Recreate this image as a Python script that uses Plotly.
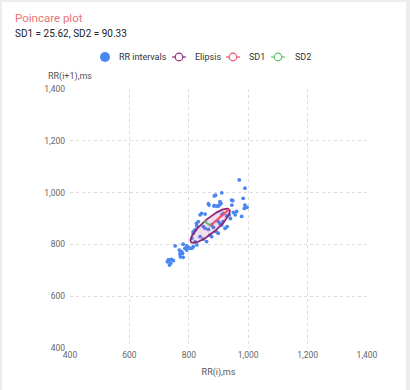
import numpy as np
import plotly.graph_objects as go

# ---- data ----
rr_i = [970, 989, 983, 944, 911, 890, 866, 886, 899, 905, 908, 948, 945, 989, 987,
        961, 956, 978, 950, 936, 927, 916, 911, 838, 843, 855, 832, 821, 827, 849,
        855, 866, 877, 883, 899, 905, 911, 916, 892, 899, 871, 877, 838, 849, 815,
        810, 827, 815, 860, 922, 929, 940, 826, 815, 821, 793, 787, 798, 793, 779,
        772, 781, 804, 810, 754, 768, 776, 770, 781, 731, 737, 742, 748, 728, 739,
        735, 903, 894, 907, 885, 868, 886, 996]
rr_i1 = [1049, 1017, 978, 971, 999, 990, 957, 950, 948, 965, 958, 969, 952, 952, 939,
         927, 914, 908, 924, 914, 910, 920, 914, 914, 920, 917, 888, 856, 871, 869,
         862, 858, 875, 866, 888, 881, 875, 888, 849, 843, 836, 830, 830, 820, 843,
         824, 798, 791, 811, 862, 869, 900, 881, 849, 810, 794, 785, 789, 778, 765,
         752, 801, 785, 785, 794, 778, 772, 763, 750, 740, 740, 742, 737, 733, 727,
         720, 952, 948, 959, 948, 952, 987, 943]

SD1 = 25.62
SD2 = 90.33
CENTER_X = 872
CENTER_Y = 872

tick_vals = [400, 600, 800, 1000, 1200, 1400]
legend_names = ["RR intervals", "Elipsis", "SD1", "SD2"]

# ---- derived geometry ----
t = np.linspace(0, 2 * np.pi, 200)
ang = np.pi / 4
ex = CENTER_X + SD2 * np.cos(t) * np.cos(ang) - SD1 * np.sin(t) * np.sin(ang)
ey = CENTER_Y + SD2 * np.cos(t) * np.sin(ang) + SD1 * np.sin(t) * np.cos(ang)
sd2_end = (CENTER_X + SD2 * np.cos(ang), CENTER_Y + SD2 * np.sin(ang))
sd1_end = (CENTER_X - SD1 * np.sin(ang), CENTER_Y + SD1 * np.cos(ang))

BLUE = "#4a86f0"
PURPLE = "#8e2a72"
RED = "#f0506e"
GREEN = "#5cc46a"
colors = [BLUE, PURPLE, RED, GREEN]
FONT = "Roboto"

fig = go.Figure()
fig.add_trace(go.Scatter(x=rr_i, y=rr_i1, mode="markers", name=legend_names[0],
                         marker=dict(color=BLUE, size=3.8)))
fig.add_trace(go.Scatter(x=ex, y=ey, mode="lines", name=legend_names[1], fill="toself",
                         fillcolor="rgba(170,70,160,0.18)",
                         line=dict(color=PURPLE, width=1.8)))
fig.add_trace(go.Scatter(x=[CENTER_X, sd2_end[0]], y=[CENTER_Y, sd2_end[1]], mode="lines",
                         name=legend_names[2], line=dict(color=RED, width=2.2)))
fig.add_trace(go.Scatter(x=[CENTER_X, sd1_end[0]], y=[CENTER_Y, sd1_end[1]], mode="lines",
                         name=legend_names[3], line=dict(color=GREEN, width=2.2)))

L, R, T, B = 70, 43, 89, 42
W, H = 410, 390
pw, ph = W - L - R, H - T - B


def px(x):
    return (x - L) / pw


def py(y):
    return (H - B - y) / ph


axis_common = dict(range=[400, 1400], tickvals=tick_vals, tickformat=",",
                   showgrid=True, gridcolor="#dcdcdc", griddash="dot", gridwidth=1,
                   zeroline=False, showline=False, ticks="", automargin=False,
                   tickfont=dict(size=8.5, color="#666666", family=FONT),
                   fixedrange=True)

# manual legend (shapes + text), laid out in pixels
shapes = [dict(type="rect", xref="paper", yref="paper", layer="below",
               x0=px(2), x1=px(406), y0=py(400), y1=py(2),
               fillcolor="white", line=dict(width=0))]
annotations = []
LY = 57
shapes.append(dict(type="circle", xref="paper", yref="paper", x0=px(100), x1=px(110),
                   y0=py(LY + 5), y1=py(LY - 5), fillcolor=BLUE, line=dict(width=0)))
annotations.append(dict(text=legend_names[0], xref="paper", yref="paper", x=px(117), y=py(LY),
                        xanchor="left", yanchor="middle", showarrow=False,
                        font=dict(size=9, color="#333", family=FONT)))
for name, col, x0, tx in zip(legend_names[1:], colors[1:], [172, 226, 271], [193, 247, 293]):
    cx = x0 + 7
    shapes.append(dict(type="line", xref="paper", yref="paper", x0=px(x0), x1=px(x0 + 14),
                       y0=py(LY), y1=py(LY), line=dict(color=col, width=1.2)))
    shapes.append(dict(type="circle", xref="paper", yref="paper", x0=px(cx - 3.8), x1=px(cx + 3.8),
                       y0=py(LY + 3.8), y1=py(LY - 3.8), fillcolor="white",
                       line=dict(color=col, width=1.2)))
    annotations.append(dict(text=name, xref="paper", yref="paper", x=px(tx), y=py(LY),
                            xanchor="left", yanchor="middle", showarrow=False,
                            font=dict(size=9, color="#333", family=FONT)))

annotations += [
    dict(text="Poincare plot", xref="paper", yref="paper", x=px(13), y=py(18),
         xanchor="left", yanchor="middle", showarrow=False,
         font=dict(size=11.5, color="#e87575", family=FONT)),
    dict(text="SD1 = 25.62, SD2 = 90.33", xref="paper", yref="paper", x=px(13), y=py(34),
         xanchor="left", yanchor="middle", showarrow=False,
         font=dict(size=10, color="#222", family=FONT)),
    dict(text="RR(i+1),ms", xref="paper", yref="paper", x=px(70), y=py(76),
         xanchor="center", yanchor="middle", showarrow=False,
         font=dict(size=9, color="#555", family=FONT)),
]

fig.update_layout(
    width=W, height=H,
    margin=dict(l=L, r=R, t=T, b=B, autoexpand=False),
    paper_bgcolor="#ededed",
    plot_bgcolor="white",
    font=dict(family=FONT, color="#333"),
    xaxis=dict(**axis_common,
               title=dict(text="RR(i),ms", font=dict(size=9, color="#555"), standoff=10)),
    yaxis=dict(**axis_common, ticklabelstandoff=4),
    showlegend=False,
    hovermode=False,
    shapes=shapes,
    annotations=annotations,
)

fig.write_html("out.html", config={"displayModeBar": False, "staticPlot": True},
               post_script="document.body.style.margin='0';")
